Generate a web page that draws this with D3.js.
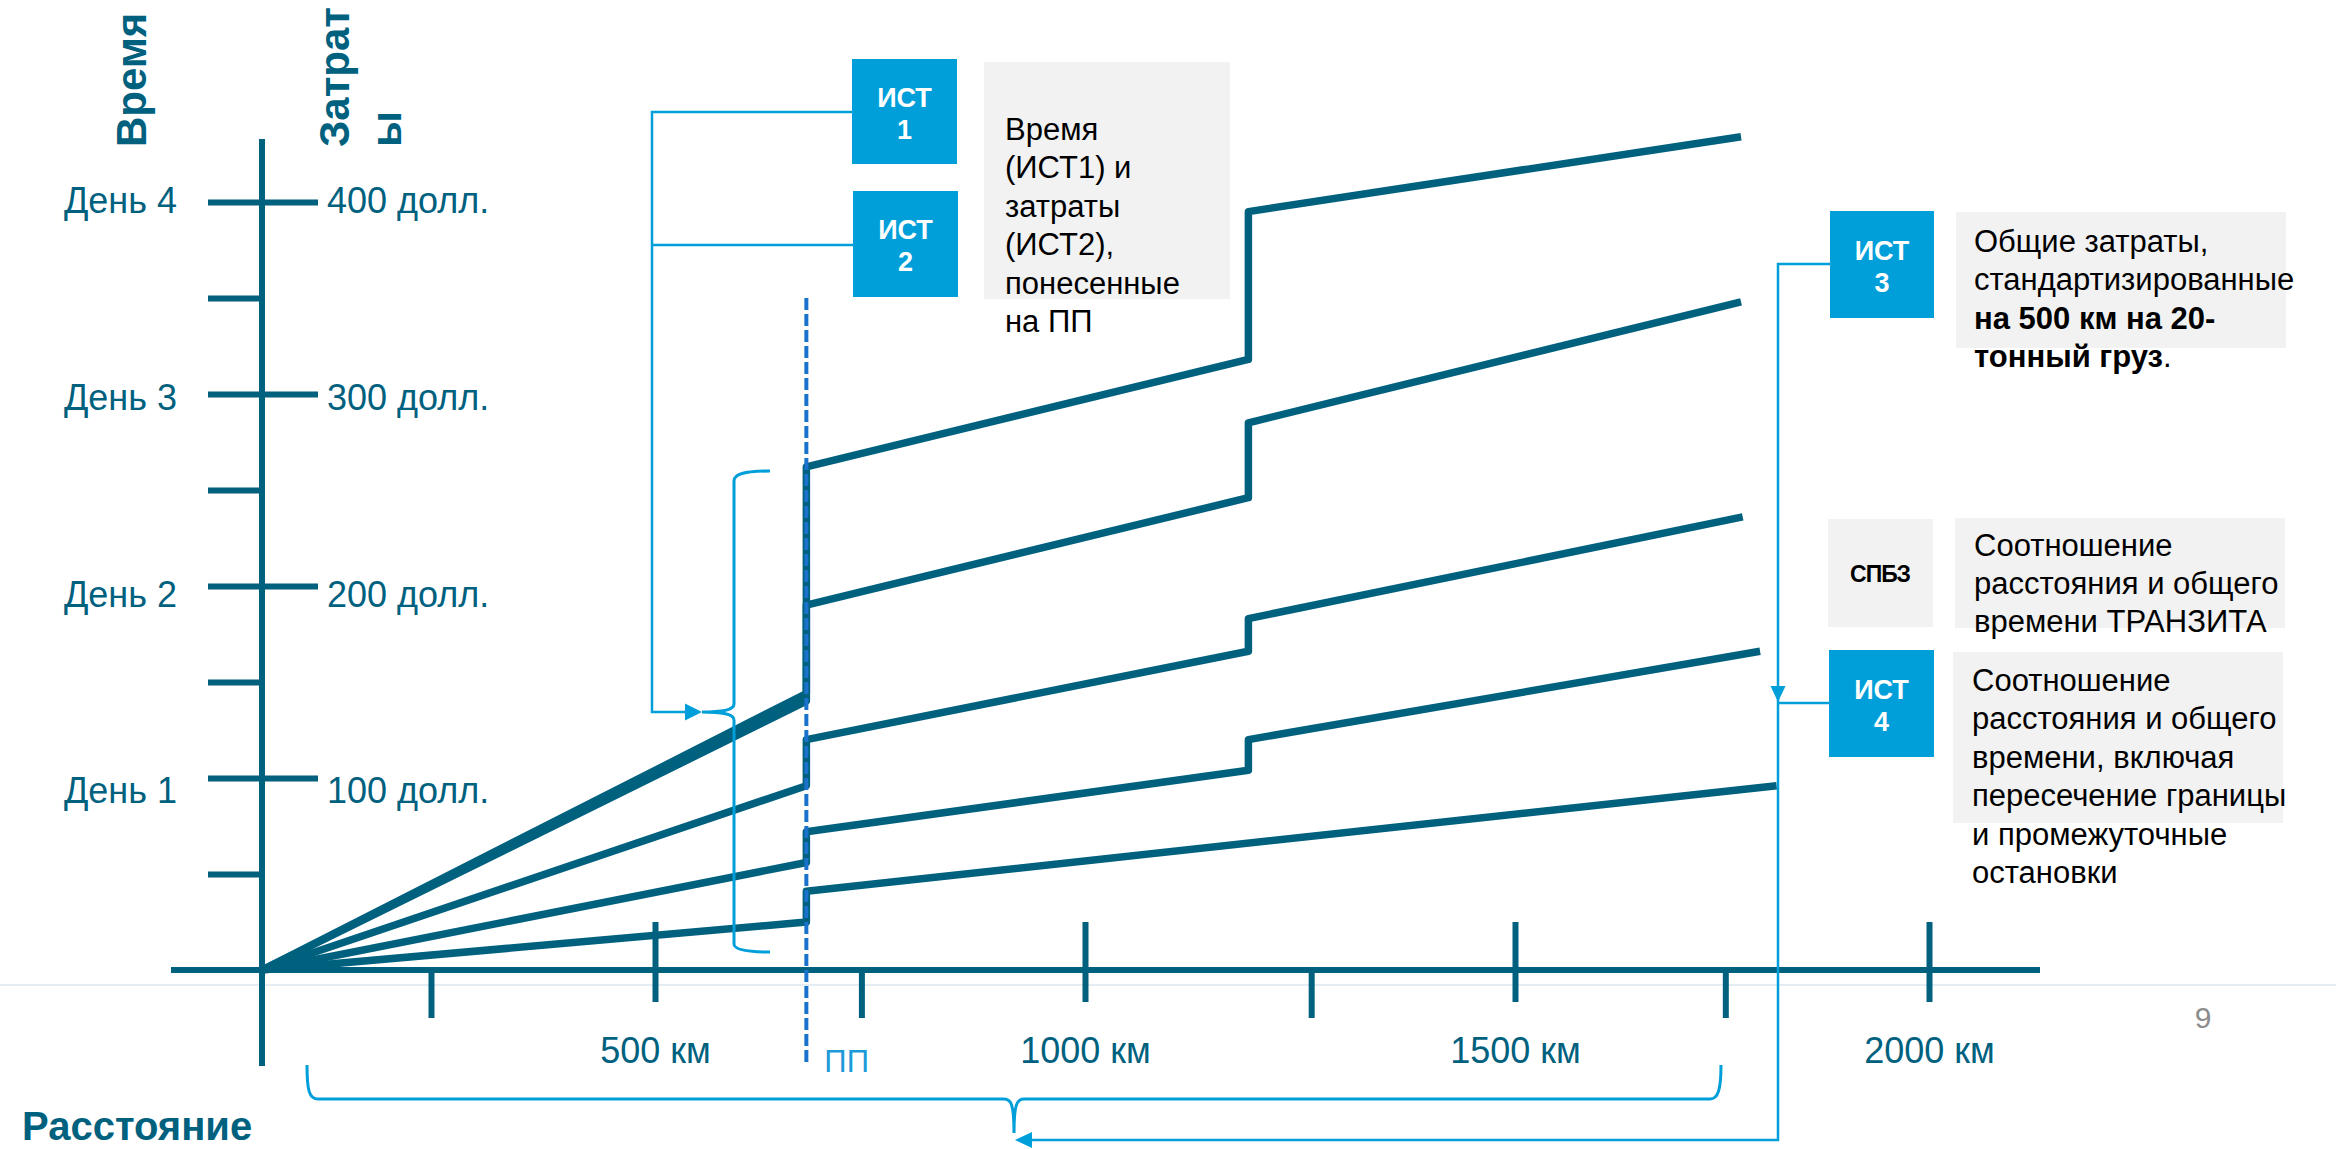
<!DOCTYPE html>
<html>
<head>
<meta charset="utf-8">
<script src="https://cdn.jsdelivr.net/npm/d3@7"></script>
<style>
  html, body { margin: 0; padding: 0; background: #ffffff; }
  svg { display: block; font-family: "Liberation Sans", Arial, sans-serif; }
</style>
</head>
<body>
<svg id="chart" width="2336" height="1149"></svg>
<script>
// ---- Distance axis (km) ----
const kmMajorTicks  = [500, 1000, 1500, 2000];
const kmMajorLabels = ["500 км", "1000 км", "1500 км", "2000 км"];
const kmMinorTicks  = [215, 740, 1263, 1754];

// ---- Time / cost axis (cost units; 100 = one day) ----
const costMajorTicks = [100, 200, 300, 400];
const dayLabels      = ["День 1", "День 2", "День 3", "День 4"];
const costLabels     = ["100 долл.", "200 долл.", "300 долл.", "400 долл."];
const costMinorTicks = [50, 150, 250, 350];

// ---- Border crossing point (ПП), km ----
const borderKm = 676;

// ---- Cumulative time/cost profiles along the route: [km, value] ----
const profileA = [[0, 0], [676, 144], [676, 262], [1190, 318], [1190, 395], [1773, 434]];
const profileB = [[0, 0], [676, 140], [676, 190], [1190, 246], [1190, 285], [1773, 348]];
const profileC = [[0, 0], [676, 96],  [676, 120], [1190, 166], [1190, 183], [1775, 236]];
const profileD = [[0, 0], [676, 56],  [676, 72],  [1190, 104], [1190, 120], [1796, 166]];
const profileE = [[0, 0], [676, 25],  [676, 41],  [1816, 96]];
const profiles = [profileE, profileD, profileC, profileB, profileA];

// ---- Side notes ----
const noteBorder = ["Время", "(ИСТ1) и", "затраты", "(ИСТ2),", "понесенные", "на ПП"];
const noteTransit = ["Соотношение", "расстояния и общего", "времени ТРАНЗИТА"];
const noteTotal = ["Соотношение", "расстояния и общего", "времени, включая", "пересечение границы", "и промежуточные", "остановки"];

const TEAL = "#00617f";
const CYAN = "#009fda";
const DASH = "#1b72cc";
const GREY = "#f2f2f2";

const svg = d3.select("#chart");

// Scales (distance axis has uneven spacing near the origin)
const x = d3.scaleLinear().domain([0, 500, 1000, 1500, 2000]).range([262, 655, 1085, 1515, 1929]);
const y = d3.scaleLinear().domain([0, 400]).range([970, 202]);
const yLabel = d3.scaleLinear().domain([100, 400]).range([790, 200]);

// Footer separator and page number
svg.append("line").attr("x1", 0).attr("x2", 2336).attr("y1", 985).attr("y2", 985)
  .attr("stroke", "#e4ecf4").attr("stroke-width", 2);
svg.append("text").attr("x", 2203).attr("y", 1028).attr("text-anchor", "middle")
  .attr("font-size", 30).attr("fill", "#8c8c8c").text("9");

// ---- Axes ----
const axisW = 6;
const x0 = x(0);

// axis lines
svg.append("line").attr("x1", 171).attr("x2", 2040).attr("y1", y(0)).attr("y2", y(0))
  .attr("stroke", TEAL).attr("stroke-width", axisW);
svg.append("line").attr("x1", x0).attr("x2", x0).attr("y1", 139).attr("y2", 1066)
  .attr("stroke", TEAL).attr("stroke-width", axisW);

function styleAxis(g) {
  g.attr("color", TEAL).attr("font-family", null).attr("font-size", null);
  g.select(".domain").remove();
  g.selectAll(".tick line").attr("stroke-width", axisW);
  g.selectAll(".tick text").attr("fill", TEAL);
}

// distance: major ticks cross the axis, minor ticks hang below
svg.append("g").attr("transform", `translate(0,${y(0)})`)
  .call(d3.axisBottom(x).tickValues(kmMajorTicks).tickSize(32)
    .tickFormat((d, i) => kmMajorLabels[i]))
  .call(styleAxis)
  .call(g => {
    g.selectAll(".tick line").attr("y1", -48);
    g.selectAll(".tick text").attr("y", 93).attr("dy", null).attr("font-size", 36);
  });
svg.append("g").attr("transform", `translate(0,${y(0)})`)
  .call(d3.axisBottom(x).tickValues(kmMinorTicks).tickSize(48).tickFormat(""))
  .call(styleAxis);

// time / cost: days on the left, dollars on the right
svg.append("g").attr("transform", `translate(${x0},0)`)
  .call(d3.axisLeft(y).tickValues(costMajorTicks).tickSize(54).tickPadding(31)
    .tickFormat((d, i) => dayLabels[i]))
  .call(styleAxis)
  .call(g => g.selectAll(".tick text").attr("font-size", 36)
    .attr("y", d => yLabel(d) - y(d)).attr("dy", "0.36em"));
svg.append("g").attr("transform", `translate(${x0},0)`)
  .call(d3.axisRight(y).tickValues(costMajorTicks).tickSize(56).tickPadding(9)
    .tickFormat((d, i) => costLabels[i]))
  .call(styleAxis)
  .call(g => g.selectAll(".tick text").attr("font-size", 36)
    .attr("y", d => yLabel(d) - y(d)).attr("dy", "0.36em"));
svg.append("g").attr("transform", `translate(${x0},0)`)
  .call(d3.axisLeft(y).tickValues(costMinorTicks).tickSize(54).tickFormat(""))
  .call(styleAxis);

// axis titles
svg.append("text").attr("transform", "translate(146,147) rotate(-90)")
  .attr("font-size", 42).attr("font-weight", "bold").attr("fill", TEAL).text("Время");
svg.append("text").attr("transform", "translate(349,147) rotate(-90)")
  .attr("font-size", 42).attr("font-weight", "bold").attr("fill", TEAL).text("Затрат");
svg.append("text").attr("transform", "translate(401,147) rotate(-90)")
  .attr("font-size", 42).attr("font-weight", "bold").attr("fill", TEAL).text("ы");
svg.append("text").attr("x", 22).attr("y", 1140)
  .attr("font-size", 40).attr("font-weight", "bold").attr("fill", TEAL).text("Расстояние");

// ---- Profile lines ----
const line = d3.line().x(d => x(d[0])).y(d => y(d[1]));
svg.append("g").selectAll("path").data(profiles).join("path")
  .attr("d", line).attr("fill", "none").attr("stroke", TEAL)
  .attr("stroke-width", 7.5).attr("stroke-linejoin", "round");

// Border crossing marker
svg.append("line").attr("x1", x(borderKm)).attr("x2", x(borderKm))
  .attr("y1", 298).attr("y2", 1066)
  .attr("stroke", DASH).attr("stroke-width", 4).attr("stroke-dasharray", "12 4");
svg.append("text").attr("x", x(borderKm) + 18).attr("y", 1072)
  .attr("font-size", 31).attr("fill", "#1a9ad8").text("ПП");

// ---- Brackets and connectors ----
const ann = svg.append("g").attr("fill", "none").attr("stroke", CYAN).attr("stroke-width", 3);

// brace spanning the border-crossing jumps
ann.append("path").attr("d",
  "M770,471 C748,471 734,473 734,481 L734,704 C734,710 722,712 702,712 " +
  "C722,712 734,714 734,720 L734,944 C734,950 748,952 770,952");
// ИСТ1 / ИСТ2 connector into the brace
ann.append("path").attr("stroke-width", 2.5).attr("d", "M852,112 H652 V712 H688");
ann.append("path").attr("stroke-width", 2.5).attr("d", "M853,245 H652");

// brace under the distance axis
ann.append("path").attr("d",
  "M307,1065 C307,1090 309,1099 318,1099 L1004,1099 C1011,1099 1014,1104 1014,1133 " +
  "C1014,1104 1017,1099 1024,1099 L1710,1099 C1718,1099 1721,1090 1721,1065");
// ИСТ3 connector down and back to the brace, with ИСТ4 branch
ann.append("path").attr("stroke-width", 2.5).attr("d", "M1830,264 H1778 V1140 H1030");
ann.append("path").attr("stroke-width", 2.5).attr("d", "M1829,703 H1778");

const heads = svg.append("g").attr("fill", CYAN);
heads.append("path").attr("d", "M702,712 L685,703.5 L685,720.5 Z");
heads.append("path").attr("d", "M1015,1140 L1032,1132 L1032,1148 Z");
heads.append("path").attr("d", "M1778,702 L1770.5,686 L1785.5,686 Z");

// ---- Labelled boxes ----
function tagBox(x1, y1, w, h, lines) {
  svg.append("rect").attr("x", x1).attr("y", y1).attr("width", w).attr("height", h).attr("fill", CYAN);
  const cx = x1 + w / 2, cy = y1 + h / 2;
  svg.append("text").attr("x", cx).attr("y", cy - 5).attr("text-anchor", "middle")
    .attr("font-size", 27).attr("font-weight", "bold").attr("fill", "#ffffff").text(lines[0]);
  svg.append("text").attr("x", cx).attr("y", cy + 27).attr("text-anchor", "middle")
    .attr("font-size", 27).attr("font-weight", "bold").attr("fill", "#ffffff").text(lines[1]);
}
tagBox(852, 59, 105, 105, ["ИСТ", "1"]);
tagBox(853, 191, 105, 106, ["ИСТ", "2"]);
tagBox(1830, 211, 104, 107, ["ИСТ", "3"]);
tagBox(1829, 650, 105, 107, ["ИСТ", "4"]);

svg.append("rect").attr("x", 1828).attr("y", 519).attr("width", 105).attr("height", 108).attr("fill", GREY);
svg.append("text").attr("x", 1880).attr("y", 582).attr("text-anchor", "middle")
  .attr("font-size", 23).attr("font-weight", "bold").attr("letter-spacing", -1)
  .attr("fill", "#000").text("СПБЗ");

// ---- Note blocks ----
function note(rx, ry, rw, rh, tx, firstBase, step, lines) {
  svg.append("rect").attr("x", rx).attr("y", ry).attr("width", rw).attr("height", rh).attr("fill", GREY);
  const t = svg.append("text").attr("font-size", 31).attr("fill", "#000");
  lines.forEach((ln, i) => {
    const row = t.append("tspan").attr("x", tx).attr("y", firstBase + i * step);
    (Array.isArray(ln) ? ln : [[ln, "normal"]]).forEach(([s, w]) =>
      row.append("tspan").attr("font-weight", w).text(s));
  });
}
note(984, 62, 246, 237, 1005, 140, 38.4, noteBorder);
note(1956, 212, 330, 136, 1974, 251.5, 38.5, [
  "Общие затраты,",
  "стандартизированные",
  [["на 500 км на 20-", "bold"]],
  [["тонный груз", "bold"], [".", "normal"]]
]);
note(1955, 518, 330, 110, 1974, 556, 38, noteTransit);
note(1953, 652, 330, 171, 1972, 691, 38.4, noteTotal);
</script>
</body>
</html>
